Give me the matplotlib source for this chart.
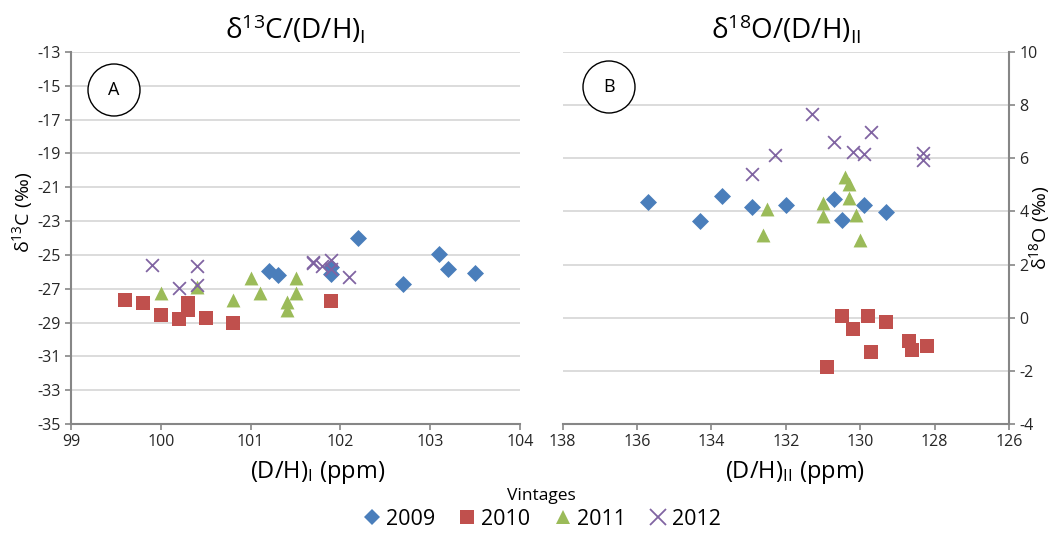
import matplotlib
matplotlib.use("Agg")
import matplotlib.pyplot as plt
from matplotlib.patches import Ellipse
from matplotlib.lines import Line2D

plt.rcParams['font.family'] = ['Open Sans', 'DejaVu Sans']
plt.rcParams['mathtext.fontset'] = 'custom'
plt.rcParams['mathtext.rm'] = 'Open Sans'
plt.rcParams['mathtext.it'] = 'Open Sans:italic'
plt.rcParams['axes.unicode_minus'] = False

# panel A: (D/H)I in ppm vs d13C in permil
dhI_2009 = [101.2, 101.3, 101.9, 101.9, 102.2, 102.7, 103.1, 103.2, 103.5]
c13_2009 = [-25.96, -26.21, -26.11, -25.72, -23.99, -26.70, -24.97, -25.82, -26.05]
dhI_2010 = [99.6, 99.8, 100.0, 100.2, 100.3, 100.3, 100.5, 100.8, 101.9]
c13_2010 = [-27.64, -27.84, -28.55, -28.80, -27.84, -28.27, -28.73, -29.02, -27.73]
dhI_2011 = [100.0, 100.4, 100.8, 101.0, 101.1, 101.4, 101.4, 101.5, 101.5]
c13_2011 = [-27.25, -26.90, -27.68, -26.35, -27.25, -27.78, -28.27, -26.35, -27.25]
dhI_2012 = [99.9, 100.2, 100.4, 100.4, 101.7, 101.7, 101.8, 101.9, 101.9, 102.1]
c13_2012 = [-25.58, -26.96, -25.66, -26.76, -25.42, -25.46, -25.66, -25.32, -25.82, -26.31]

# panel B: (D/H)II in ppm vs d18O in permil
dhII_2009 = [135.7, 134.3, 133.7, 132.9, 132.0, 130.7, 130.5, 129.9, 129.3]
o18_2009 = [4.37, 3.63, 4.58, 4.16, 4.24, 4.45, 3.66, 4.25, 3.97]
dhII_2010 = [130.5, 130.2, 129.8, 129.3, 129.7, 130.9, 128.7, 128.6, 128.2]
o18_2010 = [0.05, -0.43, 0.05, -0.18, -1.29, -1.86, -0.86, -1.21, -1.08]
dhII_2011 = [132.5, 132.6, 131.0, 131.0, 130.4, 130.3, 130.3, 130.1, 130.0]
o18_2011 = [4.08, 3.13, 4.33, 3.82, 5.31, 5.02, 4.52, 3.85, 2.92]
dhII_2012 = [132.3, 132.9, 131.3, 130.7, 130.2, 129.9, 129.7, 128.3, 128.3]
o18_2012 = [6.11, 5.42, 7.66, 6.62, 6.25, 6.18, 6.99, 6.21, 5.92]

years = ['2009', '2010', '2011', '2012']
colors = ['#4A7EBB', '#C0504D', '#9BBB59', '#8064A2']
markers = ['D', 's', '^', 'x']
sizes = [75, 115, 100, 85]

grid_c = '#D9D9D9'
spine_c = '#868686'
W, H = 1059, 534

fig = plt.figure(figsize=(W / 100, H / 100), dpi=100)
axA = fig.add_axes([71 / W, 1 - 424 / H, 449 / W, 372 / H])
axB = fig.add_axes([562.5 / W, 1 - 424 / H, 446.5 / W, 372 / H])


def style(ax):
    for s in ax.spines.values():
        s.set_visible(False)
    ax.spines['bottom'].set_visible(True)
    ax.spines['bottom'].set_color(spine_c)
    ax.spines['bottom'].set_linewidth(1.5)
    ax.grid(axis='y', color=grid_c, linewidth=1.3)
    ax.set_axisbelow(True)
    ax.tick_params(axis='both', colors=spine_c, labelcolor='#262626',
                   labelsize=11.5, length=4, width=1.2)


A_sets = [(dhI_2009, c13_2009), (dhI_2010, c13_2010), (dhI_2011, c13_2011), (dhI_2012, c13_2012)]
B_sets = [(dhII_2009, o18_2009), (dhII_2010, o18_2010), (dhII_2011, o18_2011), (dhII_2012, o18_2012)]

for i in range(4):
    lw = 1.3 if markers[i] == 'x' else 0
    axA.scatter(A_sets[i][0], A_sets[i][1], marker=markers[i], s=sizes[i],
                color=colors[i], linewidths=lw, zorder=3)
    axB.scatter(B_sets[i][0], B_sets[i][1], marker=markers[i], s=sizes[i],
                color=colors[i], linewidths=lw, zorder=3)

# left panel
style(axA)
axA.spines['left'].set_visible(True)
axA.spines['left'].set_color(spine_c)
axA.spines['left'].set_linewidth(1.5)
axA.set_xlim(99, 104)
axA.set_ylim(-35, -13)
axA.set_xticks(range(99, 105))
axA.set_yticks(range(-35, -12, 2))
axA.set_title(r'$\mathrm{δ^{13}C/(D/H)_{I}}$', fontsize=20, pad=10)

# right panel, reversed x axis, values on the right
style(axB)
axB.spines['right'].set_visible(True)
axB.spines['right'].set_color(spine_c)
axB.spines['right'].set_linewidth(1.5)
axB.set_xlim(138, 126)
axB.set_ylim(-4, 10)
axB.set_xticks(range(138, 125, -2))
axB.set_yticks(range(-4, 11, 2))
axB.yaxis.tick_right()
axB.set_title(r'$\mathrm{δ^{18}O/(D/H)_{II}}$', fontsize=20, pad=10)

# panel letters in circles
for ax, letter, cx, cy in [(axA, 'A', 114, 90), (axB, 'B', 609, 87)]:
    circ = Ellipse((cx / W, 1 - cy / H), 52 / W, 52 / H, transform=fig.transFigure,
                   facecolor='white', edgecolor='black', linewidth=1.0, zorder=5)
    fig.patches.append(circ)
    fig.text(cx / W, 1 - cy / H, letter, ha='center', va='center', fontsize=13, zorder=6)

# axis labels
fig.text(23 / W, 1 - 212 / H, r'$\mathrm{δ^{13}C\ (‰)}$', rotation=90,
         ha='center', va='center', fontsize=14)
fig.text(1040 / W, 1 - 228 / H, r'$\mathrm{δ^{18}O\ (‰)}$', rotation=90,
         ha='center', va='center', fontsize=14)
fig.text(318 / W, 1 - 473 / H, r'$\mathrm{(D/H)_{I}\ (ppm)}$', ha='center', va='center', fontsize=17)
fig.text(795 / W, 1 - 473 / H, r'$\mathrm{(D/H)_{II}\ (ppm)}$', ha='center', va='center', fontsize=17)

# shared legend
handles = []
for i in range(4):
    if markers[i] == 'x':
        h = Line2D([], [], linestyle='none', marker='x', color=colors[i], markersize=11, markeredgewidth=1.3)
    else:
        h = Line2D([], [], linestyle='none', marker=markers[i], color=colors[i],
                   markersize=10 if markers[i] != 'D' else 8.5, markeredgewidth=0)
    handles.append(h)
leg = fig.legend(handles, years, loc='center', bbox_to_anchor=(541 / W, 1 - 509 / H),
                 ncol=4, frameon=False, fontsize=15.5, title='Vintages', title_fontsize=12.5,
                 handletextpad=0.15, columnspacing=1.0, handlelength=1.0, borderpad=0,
                 labelspacing=0.2)

fig.savefig('out.png', dpi=100)
